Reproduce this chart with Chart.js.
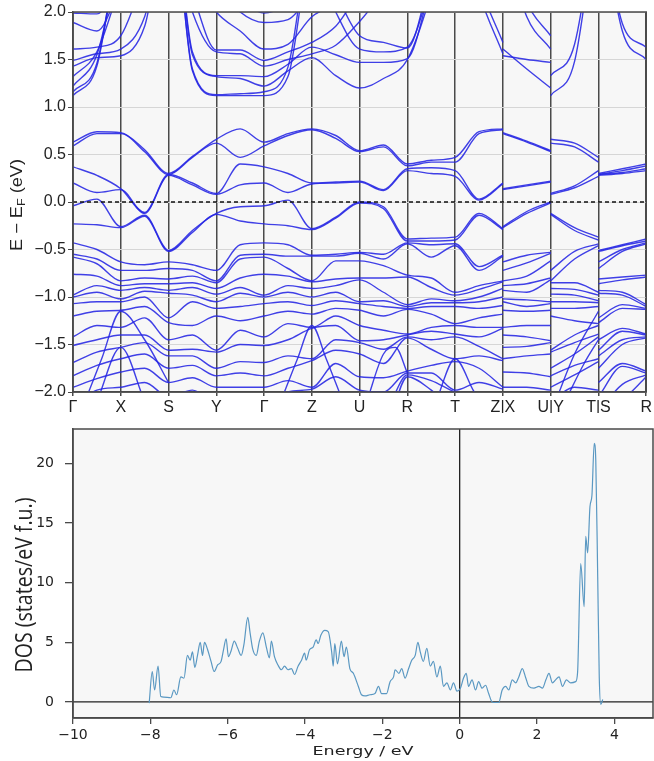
<!DOCTYPE html>
<html>
<head>
<meta charset="utf-8">
<script src="https://cdn.jsdelivr.net/npm/chart.js@4.4.1/dist/chart.umd.min.js"></script>
<style>
body { margin: 0; background: #fff; }
#wrap { position: relative; width: 654px; height: 761px; }
#bands { position: absolute; left: 0; top: 0; }
#dos { position: absolute; left: 0; top: 425px; }
</style>
</head>
<body>
<div id="wrap">
<canvas id="bands" width="654" height="425"></canvas>
<canvas id="dos" width="654" height="336"></canvas>
</div>
<script>
// ---- band structure: k-path ----
var kLabels = ['Γ', 'X', 'S', 'Y', 'Γ', 'Z', 'U', 'R', 'T', 'Z|X', 'U|Y', 'T|S', 'R'];
var energyTicks = [-2, -1.5, -1, -0.5, 0, 0.5, 1, 1.5, 2];
var kMain = [0, 0.5, 1, 1.5, 2, 2.5, 3, 3.5, 4, 4.5, 5, 5.5, 6, 6.5, 7, 7.5, 8, 8.5, 9];
var kXU = [9, 9.5, 10];
var kYT = [10, 10.5, 11];
var kSR = [11, 11.5, 12];

// conduction bands along Γ-X-S-Y-Γ-Z-U-R-T-Z (one row per band, eV)
var condA = [1.12, 1.43, 2.8, 3.2, 3.4, 1.38, 1.12, 1.12, 1.12, 1.32, 2.6, 2.0, 1.61, 1.58, 1.63, 2.3, 3.2, 2.2, 1.56];
var condB = [1.16, 1.46, 2.8, 3.2, 3.4, 1.40, 1.13, 1.14, 1.16, 1.42, 2.7, 2.2, 1.75, 1.68, 1.62, 2.4, 3.2, 2.3, 1.68];
var condC = [1.22, 1.55, 2.6, 3.2, 3.4, 1.55, 1.32, 1.30, 1.22, 1.38, 1.52, 1.33, 1.20, 1.30, 1.50, 2.2, 3.2, 2.5, 2.4];
var condD = [1.32, 1.58, 2.3, 3.0, 3.4, 1.58, 1.33, 1.33, 1.32, 1.45, 1.63, 1.55, 1.47, 1.47, 1.51, 2.3, 3.2, 2.6, 2.5];
var condE = [1.43, 1.52, 1.54, 1.85, 3.0, 2.0, 1.58, 1.56, 1.43, 1.50, 1.56, 1.65, 1.90, 2.2, 2.4, 2.8, 3.2, 2.8, 2.6];
var condF = [1.49, 1.56, 1.61, 1.95, 3.0, 2.2, 1.60, 1.60, 1.49, 1.58, 1.68, 1.85, 2.2, 2.4, 2.5, 2.9, 3.2, 2.9, 2.7];
var condG = [1.61, 1.63, 1.75, 2.4, 3.2, 2.4, 2.0, 1.80, 1.61, 1.66, 1.95, 2.1, 2.4, 2.6, 2.7, 3.0, 3.2, 3.0, 2.8];
var condH = [1.89, 1.80, 2.3, 3.0, 3.4, 2.8, 2.3, 2.0, 1.89, 1.92, 2.2, 2.5, 2.7, 2.8, 2.9, 3.1, 3.3, 3.1, 3.0];
var condI = [1.99, 1.98, 2.4, 3.0, 3.4, 2.9, 2.5, 2.15, 1.99, 2.1, 2.4, 2.7, 2.9, 3.0, 3.0, 3.2, 3.4, 3.2, 3.1];
var condXU = [[1.61, 1.40, 1.20], [1.54, 1.50, 1.47], [2.8, 1.95, 1.61], [2.9, 2.1, 1.75]];
var condYT = [[1.12, 1.48, 3.2], [1.33, 1.66, 3.2], [2.0, 2.6, 3.5], [2.3, 2.9, 3.5]];
var condSR = [[3.2, 1.80, 1.50], [3.2, 1.88, 1.63], [3.4, 2.3, 2.0], [3.4, 2.5, 2.2]];

// valence bands: energies at each k sample, highest first (eV)
var valG   = [0.63, 0.59, 0.37, 0.20, -0.04, -0.23, -0.43, -0.55, -0.58, -0.76, -0.98, -1.00, -1.07, -1.20, -1.42, -1.51, -1.69, -1.83, -1.95, -2.15, -2.3, -2.5];
var valGX  = [0.74, 0.72, 0.28, 0.10, 0.03, -0.24, -0.50, -0.60, -0.65, -0.78, -0.88, -0.95, -1.05, -1.15, -1.30, -1.45, -1.58, -1.72, -1.86, -1.98, -2.2, -2.5];
var valX   = [0.73, 0.72, 0.14, 0.13, -0.26, -0.27, -0.63, -0.72, -0.83, -0.88, -0.93, -1.02, -1.05, -1.14, -1.32, -1.40, -1.53, -1.65, -1.79, -1.95, -2.1, -2.4];
var valXS  = [0.55, 0.53, -0.11, -0.12, -0.14, -0.15, -0.66, -0.72, -0.80, -0.86, -0.90, -0.94, -1.00, -1.10, -1.22, -1.40, -1.48, -1.60, -1.75, -1.90, -2.05, -2.3];
var valS   = [0.30, 0.29, 0.29, 0.28, -0.51, -0.52, -0.63, -0.70, -0.81, -0.86, -0.93, -0.96, -1.22, -1.27, -1.45, -1.56, -1.62, -1.75, -1.90, -2.05, -2.2, -2.4];
var valSY  = [0.48, 0.47, 0.20, 0.18, -0.30, -0.32, -0.66, -0.72, -0.78, -0.85, -0.90, -0.98, -1.05, -1.30, -1.40, -1.55, -1.62, -1.72, -1.85, -1.98, -2.1, -2.3];
var valY   = [0.66, 0.62, 0.09, 0.08, -0.12, -0.13, -0.72, -0.83, -0.85, -0.91, -0.97, -1.05, -1.12, -1.20, -1.56, -1.58, -1.75, -1.83, -1.95, -2.1, -2.2, -2.4];
var valYG  = [0.77, 0.47, 0.40, 0.18, -0.05, -0.20, -0.45, -0.56, -0.60, -0.80, -0.90, -0.96, -1.10, -1.25, -1.35, -1.50, -1.68, -1.80, -1.95, -2.05, -2.2, -2.4];
var valGZ  = [0.72, 0.70, 0.30, 0.10, 0.02, -0.25, -0.45, -0.57, -0.70, -0.78, -0.88, -0.95, -1.05, -1.15, -1.28, -1.45, -1.62, -1.75, -1.88, -2.0, -2.2, -2.4];
var valZ   = [0.77, 0.76, 0.20, 0.19, -0.28, -0.29, -0.56, -0.57, -0.83, -0.84, -0.91, -1.00, -1.09, -1.18, -1.32, -1.33, -1.65, -1.67, -1.95, -1.97, -2.2, -2.4];
var valZU  = [0.70, 0.67, 0.21, 0.20, -0.16, -0.17, -0.55, -0.57, -0.62, -0.81, -0.88, -0.95, -1.04, -1.12, -1.20, -1.30, -1.45, -1.56, -1.70, -1.84, -2.0, -2.3];
var valU   = [0.54, 0.53, 0.22, 0.21, 0.00, -0.01, -0.53, -0.54, -0.62, -0.80, -0.82, -1.05, -1.07, -1.14, -1.30, -1.46, -1.48, -1.60, -1.84, -1.98, -2.2, -2.4];
var valUR  = [0.60, 0.58, 0.13, 0.12, -0.05, -0.07, -0.55, -0.60, -0.67, -0.80, -0.95, -1.04, -1.10, -1.20, -1.35, -1.45, -1.55, -1.70, -1.85, -2.0, -2.2, -2.4];
var valR   = [0.40, 0.38, 0.35, 0.33, -0.39, -0.41, -0.43, -0.44, -0.77, -0.79, -1.08, -1.10, -1.12, -1.13, -1.39, -1.40, -1.42, -1.43, -1.78, -1.80, -1.82, -1.84];
var valRT  = [0.44, 0.42, 0.36, 0.30, -0.38, -0.41, -0.45, -0.58, -0.80, -0.90, -1.02, -1.06, -1.10, -1.18, -1.32, -1.36, -1.45, -1.55, -1.72, -1.80, -1.88, -1.98];
var valT   = [0.47, 0.42, 0.33, 0.27, -0.37, -0.40, -0.44, -0.46, -0.95, -0.98, -1.04, -1.06, -1.10, -1.28, -1.30, -1.39, -1.42, -1.65, -1.68, -1.98, -2.0, -2.2];
var valTZ  = [0.74, 0.72, 0.03, 0.02, -0.12, -0.14, -0.68, -0.72, -0.88, -0.92, -1.00, -1.05, -1.12, -1.22, -1.32, -1.42, -1.52, -1.62, -1.75, -1.90, -2.05, -2.2];
var valXUm = [0.64, 0.63, 0.18, 0.17, -0.10, -0.12, -0.56, -0.64, -0.78, -0.86, -0.95, -1.03, -1.10, -1.15, -1.30, -1.42, -1.52, -1.62, -1.80, -1.95, -2.1, -2.4];
var valYTm = [0.62, 0.58, 0.17, 0.15, -0.27, -0.30, -0.52, -0.60, -0.85, -0.92, -0.98, -1.05, -1.12, -1.25, -1.40, -1.48, -1.60, -1.72, -1.82, -1.95, -2.1, -2.3];
var valSRm = [0.35, 0.33, 0.31, 0.30, -0.45, -0.46, -0.50, -0.52, -0.79, -0.82, -0.95, -0.98, -1.08, -1.12, -1.33, -1.36, -1.45, -1.50, -1.70, -1.73, -1.92, -2.1];

// deep, steep valence branches entering from below the window (k, eV)
var deepK = [[0.25, 0.6, 1.0, 1.5, 2.0], [0.5, 1.0, 1.5], [4.35, 4.7, 5.0, 5.3, 5.65], [6.15, 6.5, 6.75, 7.0],
             [7.6, 8.0, 8.4, 8.7], [10.1, 10.5, 11.0], [10.3, 10.7, 11.0]];
var deepE = [[-2.1, -1.65, -1.15, -1.45, -1.9], [-2.1, -1.53, -2.1], [-2.1, -1.65, -1.3, -1.65, -2.1], [-2.1, -1.6, -1.53, -1.8],
             [-2.1, -1.65, -2.0, -2.2], [-2.1, -1.6, -1.15], [-2.1, -1.7, -1.45]];

// ---- density of states ----
var dosEnergy = [-8.03, -7.95, -7.89, -7.80, -7.73, -7.65, -7.47, -7.39, -7.32, -7.21, -7.13, -7.04, -6.97, -6.91, -6.85, -6.78, -6.71, -6.65, -6.60, -6.52,
  -6.43, -6.35, -6.26, -6.17, -6.10, -6.04, -5.98, -5.91, -5.83, -5.74, -5.65, -5.58, -5.48, -5.42, -5.35, -5.26, -5.18, -5.09, -5.00, -4.92,
  -4.87, -4.79, -4.70, -4.61, -4.53, -4.44, -4.35, -4.27, -4.18, -4.09, -4.01, -3.97, -3.88, -3.79, -3.71, -3.66, -3.59, -3.49, -3.40, -3.31,
  -3.27, -3.23, -3.16, -3.06, -2.99, -2.93, -2.84, -2.75, -2.62, -2.54, -2.45, -2.32, -2.19, -2.10, -2.02, -1.89, -1.80, -1.71, -1.67, -1.57,
  -1.50, -1.41, -1.32, -1.24, -1.15, -1.08, -1.02, -0.94, -0.85, -0.76, -0.68, -0.59, -0.50, -0.42, -0.33, -0.24, -0.16, -0.07, 0.02, 0.10,
  0.17, 0.23, 0.32, 0.41, 0.49, 0.58, 0.67, 0.75, 0.84, 0.93, 1.01, 1.10, 1.19, 1.27, 1.36, 1.45, 1.53, 1.62, 1.71, 1.79,
  1.92, 2.05, 2.14, 2.23, 2.31, 2.40, 2.48, 2.57, 2.66, 2.76, 2.87, 3.00, 3.05, 3.13, 3.22, 3.26, 3.31, 3.37, 3.42, 3.48,
  3.52, 3.57, 3.61, 3.65, 3.70];
var dosValue = [-0.1, 2.55, 1.0, 3.0, 0.45, 0.4, 0.35, 1.0, 0.6, 2.1, 2.0, 3.9, 3.5, 4.2, 2.9, 3.9, 5.0, 3.9, 5.0, 4.4,
  3.4, 2.55, 3.1, 3.4, 4.5, 5.3, 3.8, 4.3, 5.1, 4.5, 3.9, 4.8, 7.1, 5.8, 4.4, 3.9, 5.1, 5.8, 4.6, 3.7,
  5.1, 3.8, 3.1, 2.7, 3.0, 2.7, 2.8, 2.3, 3.0, 3.5, 4.1, 3.5, 4.4, 4.6, 5.2, 4.9, 5.6, 6.0, 5.9, 4.2,
  3.0, 4.9, 3.2, 5.1, 3.8, 4.6, 2.8, 2.4, 1.3, 0.6, 0.5, 0.6, 0.7, 1.3, 0.7, 0.7, 1.7, 2.1, 2.7, 2.4,
  2.8, 2.0, 2.8, 3.5, 3.9, 5.0, 4.2, 3.4, 4.5, 3.0, 3.4, 2.1, 3.0, 1.3, 1.6, 1.0, 1.6, 0.9, 1.15, 2.0,
  2.4, 1.3, 1.85, 1.0, 1.7, 1.15, 1.4, 0.7, 0.0, -0.05, -0.05, 1.0, 1.3, 1.0, 1.85, 1.6, 2.1, 2.8, 2.0, 1.3,
  1.15, 1.3, 1.15, 1.85, 2.4, 1.6, 1.85, 2.1, 1.3, 1.85, 1.6, 1.7, 2.5, 11.6, 8.0, 13.9, 12.5, 16.4, 17.3, 21.7,
  20.3, 10.5, 2.1, -0.2, 0.2];
var dosXTicks = [-10, -8, -6, -4, -2, 0, 2, 4];
var dosYTicks = [0, 5, 10, 15, 20];

var bandColor = 'rgba(38, 38, 228, 0.88)';
var minus = function (s) { return String(s).replace('-', '\u2212'); };

// build datasets
var bandSets = [];
function addRows(ks, rows) {
  rows.forEach(function (r) {
    bandSets.push({ data: ks.map(function (k, i) { return { x: k, y: r[i] }; }), borderColor: bandColor });
  });
}
function addCols(ks, cols) {
  for (var b = 0; b < cols[0].length; b++) {
    bandSets.push({ data: ks.map(function (k, i) { return { x: k, y: cols[i][b] }; }), borderColor: bandColor });
  }
}
addRows(kMain, [condA, condB, condC, condD, condE, condF, condG, condH, condI]);
addRows(kXU, condXU);
addRows(kYT, condYT);
addRows(kSR, condSR);
addCols(kMain, [valG, valGX, valX, valXS, valS, valSY, valY, valYG, valG, valGZ, valZ, valZU, valU, valUR, valR, valRT, valT, valTZ, valZ]);
addCols(kXU, [valX, valXUm, valU]);
addCols(kYT, [valY, valYTm, valT]);
addCols(kSR, [valS, valSRm, valR]);
deepK.forEach(function (ks, j) { addRows(ks, [deepE[j]]); });

var frameColor = '#4a4a4a';

// draw text stretched along its own direction to a given length
function fitText(ctx, text, font, length) {
  ctx.font = font;
  var w = ctx.measureText(text).width;
  ctx.scale(length / w, 1);
  ctx.fillText(text, 0, 0);
}

var bandDecor = {
  id: 'bandDecor',
  beforeDraw: function (chart) {
    var a = chart.chartArea, ctx = chart.ctx;
    ctx.save();
    ctx.fillStyle = '#f7f7f7';
    ctx.fillRect(a.left, a.top, a.right - a.left, a.bottom - a.top);
    ctx.restore();
  },
  afterDatasetsDraw: function (chart) {
    var a = chart.chartArea, ctx = chart.ctx;
    var y0 = chart.scales.y.getPixelForValue(0);
    ctx.save();
    ctx.strokeStyle = '#111';
    ctx.lineWidth = 1.3;
    ctx.setLineDash([4, 3]);
    ctx.beginPath();
    ctx.moveTo(a.left, y0);
    ctx.lineTo(a.right, y0);
    ctx.stroke();
    ctx.setLineDash([]);
    ctx.strokeStyle = frameColor;
    ctx.lineWidth = 1.5;
    ctx.strokeRect(a.left, a.top, a.right - a.left, a.bottom - a.top);
    ctx.restore();
  },
  afterDraw: function (chart) {
    var ctx = chart.ctx;
    var parts = [['E \u2212 E', '16px "Liberation Sans"', 0], ['F', '11px "Liberation Sans"', 4], [' (eV)', '16px "Liberation Sans"', 0]];
    ctx.save();
    ctx.translate(18, 205);
    ctx.rotate(-Math.PI / 2);
    ctx.fillStyle = '#222';
    ctx.textBaseline = 'middle';
    var total = 0;
    parts.forEach(function (p) { ctx.font = p[1]; total += ctx.measureText(p[0]).width; });
    ctx.scale(92 / total, 1);
    var x = -total / 2;
    parts.forEach(function (p) {
      ctx.font = p[1];
      ctx.fillText(p[0], x, p[2]);
      x += ctx.measureText(p[0]).width;
    });
    ctx.restore();
  }
};

new Chart(document.getElementById('bands'), {
  type: 'line',
  data: { datasets: bandSets },
  options: {
    responsive: false,
    animation: false,
    events: [],
    layout: { padding: { top: 12, right: 5, left: 0, bottom: 12 } },
    plugins: { legend: { display: false }, tooltip: { enabled: false }, colors: { enabled: false } },
    elements: {
      point: { radius: 0 },
      line: { borderWidth: 1.4, cubicInterpolationMode: 'monotone', fill: false }
    },
    scales: {
      x: {
        type: 'linear', min: 0, max: 12,
        afterBuildTicks: function (s) { s.ticks = kLabels.map(function (_, i) { return { value: i }; }); },
        afterFit: function (s) { s.height = 21; },
        ticks: { callback: function (v) { return kLabels[v]; }, maxRotation: 0, autoSkip: false, padding: 2,
          color: '#222', font: { family: 'Liberation Sans', size: 16 } },
        grid: { color: frameColor, lineWidth: 1.5, tickLength: 4 },
        border: { color: frameColor, width: 1.5 }
      },
      y: {
        min: -2, max: 2,
        afterBuildTicks: function (s) { s.ticks = energyTicks.map(function (v) { return { value: v }; }); },
        afterFit: function (s) { s.width = 73; },
        ticks: { callback: function (v) { return minus(v.toFixed(1)); }, padding: 2,
          color: '#222', font: { family: 'Liberation Sans', size: 16 } },
        grid: { color: '#d6d6d6', lineWidth: 1, tickColor: frameColor, tickLength: 5 },
        border: { color: frameColor, width: 1.5 }
      }
    }
  },
  plugins: [bandDecor]
});

var dosDecor = {
  id: 'dosDecor',
  beforeDraw: function (chart) {
    var a = chart.chartArea, ctx = chart.ctx;
    ctx.save();
    ctx.fillStyle = '#f7f7f7';
    ctx.fillRect(a.left, a.top, a.right - a.left, a.bottom - a.top);
    ctx.restore();
  },
  beforeDatasetsDraw: function (chart) {
    var a = chart.chartArea, ctx = chart.ctx;
    var x0 = chart.scales.x.getPixelForValue(0);
    var y0 = chart.scales.y.getPixelForValue(0);
    ctx.save();
    ctx.strokeStyle = '#222';
    ctx.lineWidth = 1.3;
    ctx.beginPath();
    ctx.moveTo(a.left, y0); ctx.lineTo(a.right, y0);
    ctx.moveTo(x0, a.top); ctx.lineTo(x0, a.bottom);
    ctx.stroke();
    ctx.restore();
  },
  afterDraw: function (chart) {
    var a = chart.chartArea, ctx = chart.ctx;
    ctx.save();
    ctx.strokeStyle = frameColor;
    ctx.lineWidth = 1.5;
    ctx.strokeRect(a.left, a.top, a.right - a.left, a.bottom - a.top);
    ctx.fillStyle = '#222';
    ctx.textAlign = 'center';
    ctx.textBaseline = 'middle';
    ctx.save();
    ctx.translate((a.left + a.right) / 2, 327);
    fitText(ctx, 'Energy / eV', '13px "DejaVu Sans"', 101);
    ctx.restore();
    ctx.translate(25, 160);
    ctx.rotate(-Math.PI / 2);
    fitText(ctx, 'DOS (states/eV f.u.)', '23px "Open Sans"', 175);
    ctx.restore();
  }
};

new Chart(document.getElementById('dos'), {
  type: 'line',
  data: {
    datasets: [{
      data: dosEnergy.map(function (e, i) { return { x: e, y: dosValue[i] }; }),
      borderColor: '#5a98c2',
      borderWidth: 1.2,
      pointRadius: 0,
      cubicInterpolationMode: 'monotone',
      fill: false
    }]
  },
  options: {
    responsive: false,
    animation: false,
    events: [],
    layout: { padding: { top: 4, right: 1, left: 0, bottom: 0 } },
    plugins: { legend: { display: false }, tooltip: { enabled: false }, colors: { enabled: false } },
    scales: {
      x: {
        type: 'linear', min: -10, max: 5,
        afterBuildTicks: function (s) { s.ticks = dosXTicks.map(function (v) { return { value: v }; }); },
        afterFit: function (s) { s.height = 43; },
        ticks: { callback: function (v) { return minus(v); }, maxRotation: 0, padding: 3,
          color: '#222', font: { family: 'DejaVu Sans', size: 14 } },
        grid: { drawOnChartArea: false, color: frameColor, lineWidth: 1.3, tickLength: 6 },
        border: { color: frameColor, width: 1.5 }
      },
      y: {
        min: -1.35, max: 22.9,
        afterBuildTicks: function (s) { s.ticks = dosYTicks.map(function (v) { return { value: v }; }); },
        afterFit: function (s) { s.width = 73; s.paddingTop = 0; s.paddingBottom = 0; },
        ticks: { padding: 11, color: '#222', font: { family: 'DejaVu Sans', size: 14 } },
        grid: { drawOnChartArea: false, color: frameColor, lineWidth: 1.3, tickLength: 8 },
        border: { color: frameColor, width: 1.5 }
      }
    }
  },
  plugins: [dosDecor]
});
</script>
</body>
</html>
